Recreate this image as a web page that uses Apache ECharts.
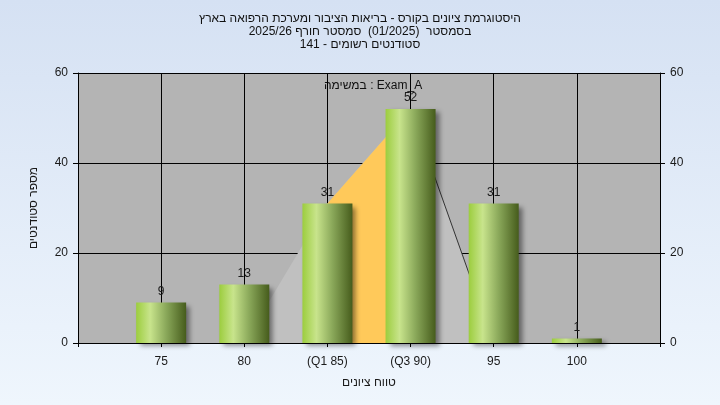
<!DOCTYPE html>
<html>
<head>
<meta charset="utf-8">
<script src="https://cdn.jsdelivr.net/npm/echarts@6/dist/echarts.min.js"></script>
<style>
html,body{margin:0;padding:0;}
#c{width:720px;height:405px;direction:rtl;}
</style>
</head>
<body>
<div id="c"></div>
<script>
// ---- data ----
var titleLines = [
  'היסטוגרמת ציונים בקורס - בריאות הציבור ומערכת הרפואה בארץ',
  'בסמסטר  (01/2025)  סמסטר חורף 2025/26',
  'סטודנטים רשומים - 141'
];
var legendText = 'Exam_A : במשימה';
var xAxisName = 'טווח ציונים';
var yAxisName = 'מספר סטודנטים';
var categories = [75, 80, 85, 90, 95, 100];
var categoryLabels = ['75', '80', '(Q1 85)', '(Q3 90)', '95', '100'];
var counts = [9, 13, 31, 52, 31, 1];
var curveX = [80, 85, 90, 95];
var curveY = [0, 31, 52, 0];
var iqrX = [85, 90];
var iqrY = [31, 52];
var yTicks = [0, 20, 40, 60];

// ---- build ----
var labelMap = {};
categories.forEach(function (c, i) { labelMap[c] = categoryLabels[i]; });
var barData = categories.map(function (c, i) { return [c, counts[i]]; });
var curveData = curveX.map(function (x, i) { return [x, curveY[i]]; });
var iqrData = iqrX.map(function (x, i) { return [x, iqrY[i]]; });
var tailData = curveData.slice(2);

var font = '"Liberation Sans", Arial, sans-serif';
var txt = '#1a1a1a';

var chart = echarts.init(document.getElementById('c'), null, {renderer: 'canvas'});
var yAxisCommon = {
  type: 'value', min: yTicks[0], max: yTicks[yTicks.length - 1], interval: 20,
  axisLine: {show: true, lineStyle: {color: '#000', width: 1}},
  axisTick: {show: true, length: 5, lineStyle: {color: '#000'}},
  axisLabel: {color: txt, fontSize: 12, fontFamily: font, margin: 10},
  splitLine: {show: false}
};
chart.setOption({
  backgroundColor: {
    type: 'linear', x: 0, y: 0, x2: 0, y2: 1,
    colorStops: [{offset: 0, color: '#d5e1f3'}, {offset: 1, color: '#eff6fd'}]
  },
  animation: false,
  title: {
    text: titleLines.join('\n'),
    left: 'center', top: 7,
    textStyle: {fontSize: 12, fontWeight: 'normal', color: '#111', fontFamily: font, lineHeight: 13}
  },
  graphic: [{
    type: 'text', left: 324, top: 80,
    style: {text: legendText, fontSize: 12, fontFamily: font, fill: '#111'}
  }],
  grid: {left: 78, right: 60, top: 73, bottom: 62, show: true, backgroundColor: '#b4b4b4', borderWidth: 0},
  xAxis: {
    type: 'value', min: 70, max: 105, interval: 5,
    name: xAxisName, nameLocation: 'middle', nameGap: 34,
    nameTextStyle: {color: txt, fontSize: 12, fontFamily: font},
    axisLine: {show: true, onZero: false, lineStyle: {color: '#000', width: 1}},
    axisTick: {show: true, length: 4, lineStyle: {color: '#000'}},
    axisLabel: {
      color: txt, fontSize: 12, fontFamily: font, margin: 13,
      showMinLabel: true, showMaxLabel: true,
      formatter: function (v) { return labelMap[v] || ''; }
    },
    splitLine: {show: true, lineStyle: {color: '#000', width: 1}}
  },
  yAxis: [
    Object.assign({}, yAxisCommon, {
      position: 'left',
      name: yAxisName, nameLocation: 'middle', nameGap: 38, nameRotate: 90,
      nameTextStyle: {color: txt, fontSize: 12, fontFamily: font},
      splitLine: {show: true, lineStyle: {color: '#000', width: 1}}
    }),
    Object.assign({}, yAxisCommon, {position: 'right'})
  ],
  series: [
    {
      type: 'line', data: curveData, symbol: 'none', z: 2,
      lineStyle: {width: 0}, areaStyle: {color: '#c0c0c0', opacity: 1}
    },
    {
      type: 'line', data: iqrData, symbol: 'none', z: 2,
      lineStyle: {width: 0}, areaStyle: {color: '#ffc95a', opacity: 1}
    },
    {
      type: 'line', data: tailData, symbol: 'none', z: 3,
      lineStyle: {width: 1, color: '#333'}
    },
    {
      type: 'bar', data: barData, barWidth: 50, z: 4,
      itemStyle: {
        color: {
          type: 'linear', x: 0, y: 0, x2: 1, y2: 0,
          colorStops: [
            {offset: 0, color: '#9ccd3e'},
            {offset: 0.28, color: '#c8e48c'},
            {offset: 0.6, color: '#8aa85a'},
            {offset: 1, color: '#465c1c'}
          ]
        },
        shadowColor: 'rgba(0,0,0,0.45)', shadowBlur: 5, shadowOffsetX: 4, shadowOffsetY: 3
      },
      label: {show: true, position: 'top', distance: 5, color: txt, fontSize: 12, fontFamily: font}
    }
  ]
});
</script>
</body>
</html>
